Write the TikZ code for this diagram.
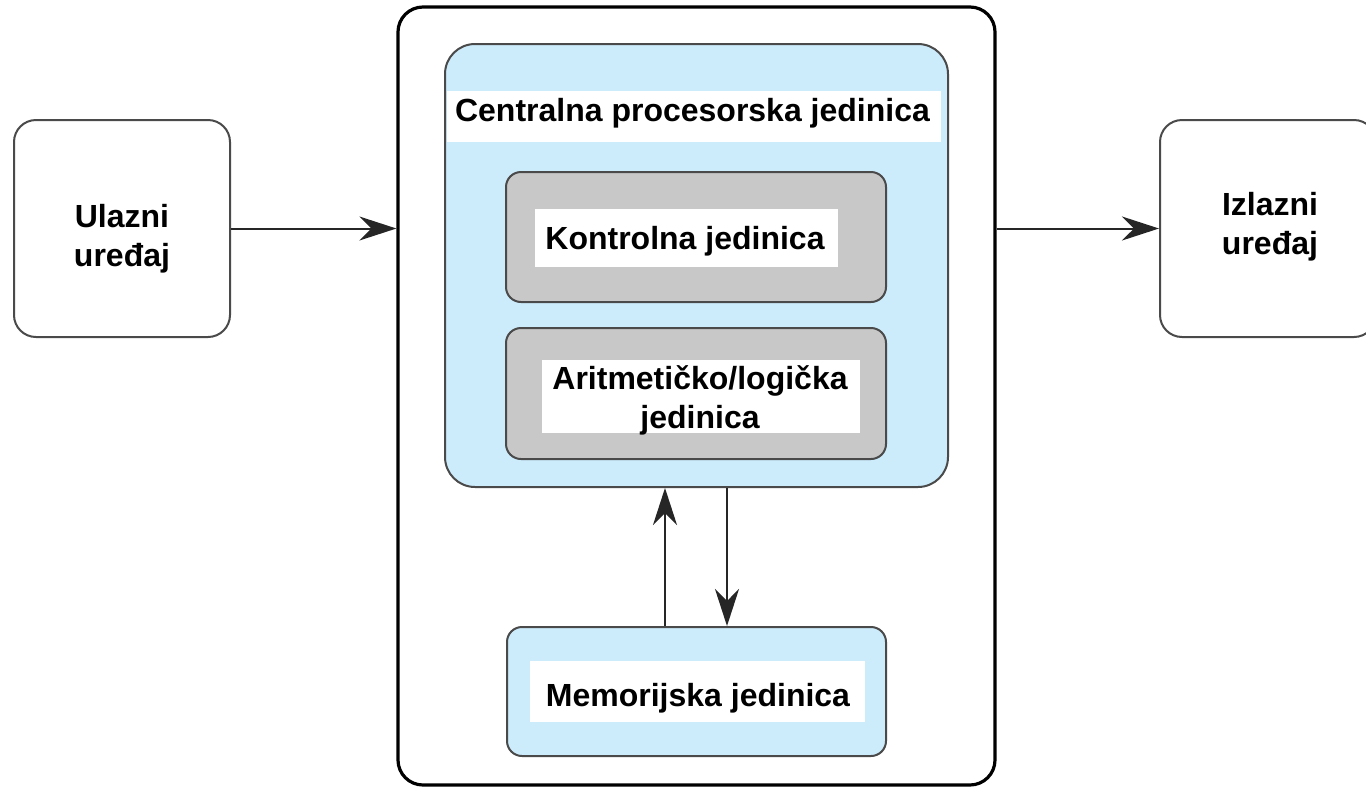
\documentclass[tikz,border=0pt]{standalone}
\usepackage{fontspec}
\setmainfont{Liberation Sans}
\usetikzlibrary{arrows.meta}
\definecolor{lblue}{HTML}{CCEBFB}
\definecolor{lgray}{HTML}{C8C8C8}
\definecolor{edge}{HTML}{4A4A4A}
\definecolor{arrc}{HTML}{262626}
\begin{document}
\begin{tikzpicture}[x=1pt,y=-1pt,
  every node/.style={inner sep=0pt},
  txt/.style={font=\fontsize{32}{39}\selectfont\bfseries, align=center},
  sidebox/.style={draw=edge, line width=2pt, rounded corners=22pt, fill=white, minimum width=216pt, minimum height=217pt},
  outerbox/.style={draw=black, line width=3.2pt, rounded corners=25pt, fill=white, minimum width=597pt, minimum height=778pt},
  cpubox/.style={draw=edge, line width=2pt, rounded corners=30pt, fill=lblue, minimum width=503pt, minimum height=443pt},
  unitbox/.style={draw=edge, line width=2pt, rounded corners=15pt, fill=lgray, minimum width=380pt, minimum height=130pt},
  membox/.style={draw=edge, line width=2pt, rounded corners=15pt, fill=lblue, minimum width=379pt, minimum height=129pt},
  band/.style={fill=white},
  arr/.style={draw=arrc, line width=2pt, -{Stealth[length=37pt, width=24pt, inset=12pt]}}
]
\useasboundingbox (0,0) rectangle (1366,788);
\begin{scope}
\clip (0,0) rectangle (1366,788);
\node[outerbox] (outer) at (696.5,396) {};
\node[cpubox] (cpu) at (696.5,265.5) {};
\node[band, minimum width=494pt, minimum height=51pt] (cpub) at (694,116.5) {};
\node[txt] (cput) at (692.5,113.7) {Centralna procesorska jedinica};
\node[unitbox] (cu) at (696,237) {};
\node[band, minimum width=303pt, minimum height=58pt] (cub) at (686,238) {};
\node[txt] (cut) at (685,241.7) {Kontrolna jedinica};
\node[unitbox, minimum height=131pt] (alu) at (696,393.5) {};
\node[band, minimum width=318pt, minimum height=73pt] (alub) at (701,396.5) {};
\node[txt] (alut) at (700,400.8) {Aritmetičko/logička\\jedinica};
\node[membox] (mem) at (696.5,691.5) {};
\node[band, minimum width=335pt, minimum height=61pt] (memb) at (697.5,691.5) {};
\node[txt] (memt) at (698,698.5) {Memorijska jedinica};
\node[sidebox] (in) at (122,228.5) {};
\node[txt] (int) at (122,239) {Ulazni\\uređaj};
\node[sidebox] (out) at (1268,228.5) {};
\node[txt] (outt) at (1270,227) {Izlazni\\uređaj};
\coordinate (upx) at (665,0);
\coordinate (dnx) at (727,0);
\draw[arr] (in.east) -- (in.east -| outer.west);
\draw[arr] (out.west -| outer.east) -- (out.west);
\draw[arr] (mem.north -| upx) -- (cpu.south -| upx);
\draw[arr] (cpu.south -| dnx) -- (mem.north -| dnx);
\end{scope}
\end{tikzpicture}
\end{document}
